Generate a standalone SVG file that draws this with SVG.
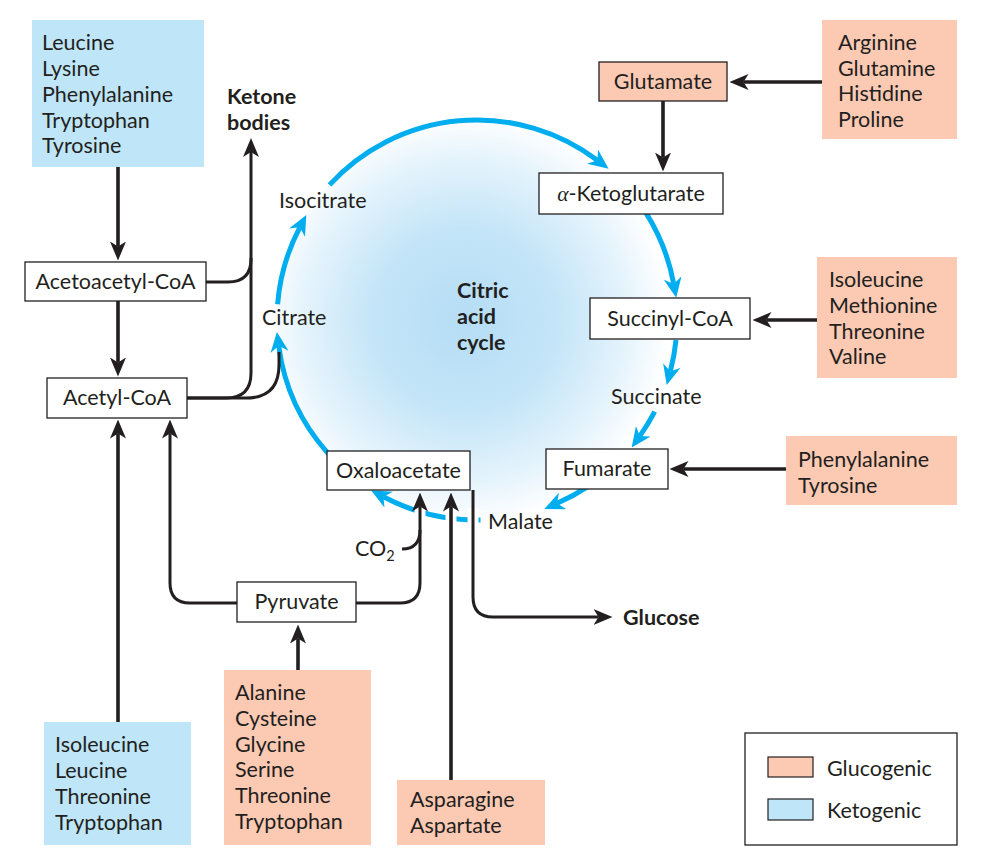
<svg xmlns="http://www.w3.org/2000/svg" width="985" height="859" viewBox="0 0 985 859">
<defs>
<radialGradient id="cyc" cx="465" cy="320" r="205" gradientUnits="userSpaceOnUse">
<stop offset="0" stop-color="#b5ddf5"/>
<stop offset="0.45" stop-color="#c4e5f8"/>
<stop offset="0.8" stop-color="#e6f4fc"/>
<stop offset="1" stop-color="#ffffff"/>
</radialGradient>
<marker id="ab" markerUnits="userSpaceOnUse" viewBox="0 0 20 18" markerWidth="20" markerHeight="18" refX="6" refY="9" orient="auto"><path d="M0,0 L20,9 L0,18 L6,9 z" fill="#00aeef"/></marker>
<marker id="ak" markerUnits="userSpaceOnUse" viewBox="0 0 19 16" markerWidth="19" markerHeight="16" refX="5" refY="8" orient="auto"><path d="M0,0 L19,8 L0,16 L5,8 z" fill="#231f20"/></marker>
</defs>
<style>
text{font-family:Lato,"Open Sans","Liberation Sans",sans-serif;font-size:21.5px;fill:#231f20}
.b{font-weight:bold}
.box{fill:#fff;stroke:#231f20;stroke-width:1.3}
.pe{fill:#fcc9b3}
.bl{fill:#bfe6f8}
.cy{fill:none;stroke:#00aeef;stroke-width:5;marker-end:url(#ab)}
.k{fill:none;stroke:#231f20;stroke-width:3}
.s{stroke-width:3.6}
.ka{marker-end:url(#ak)}
.gap{stroke:#fff;stroke-width:11}
</style>
<rect width="985" height="859" fill="#fff"/>
<circle cx="477" cy="320" r="200" fill="url(#cyc)"/>

<g id="cycle-arrows">
<path class="cy" d="M328.4,453.8 A200,200 0 0 1 278.7,345.8"/>
<path class="cy" d="M277.6,304.3 A200,200 0 0 1 299.8,227.3"/>
<path class="cy" d="M329.5,184.9 A200,200 0 0 1 597.4,160.3"/>
<path class="cy" d="M646.1,213.1 A200,200 0 0 1 673.7,283.9"/>
<path class="cy" d="M676.0,339.9 A200,200 0 0 1 670.3,371.4"/>
<path class="cy" d="M654.7,411.7 A200,200 0 0 1 639.8,436.1"/>
<path class="cy" d="M587.7,486.6 A200,200 0 0 1 557.1,503.3"/>
<path class="cy" d="M480.5,520.0 A200,200 0 0 1 383.4,496.8"/>
<line class="gap" x1="420" y1="503" x2="420" y2="522"/>
<line class="gap" x1="451" y1="508" x2="451" y2="530"/>
<line class="gap" x1="473" y1="508" x2="473" y2="530"/>
</g>

<g id="connectors">
<path class="k s ka" d="M118,167 V246.5"/>
<path class="k s ka" d="M118,301 V362.5"/>
<path class="k ka" d="M206,282 H228 Q251,282 251,259 V152"/>
<path class="k" d="M187,398 H226 Q251,398 251,373 V258"/>
<path class="k" d="M187,398 H246 Q279,398 279,365 V352"/>
<path class="k ka" d="M237,603 H190 Q170,603 170,583 V433.5"/>
<path class="k s ka" d="M118,722 V433.5"/>
<path class="k s ka" d="M298,670 V638.5"/>
<path class="k ka" d="M356,603 H400 Q420,603 420,583 V506.5"/>
<path class="k" d="M402,549 Q420,549 420,530"/>
<path class="k s ka" d="M451,780 V506.5"/>
<path class="k ka" d="M473,490 V597 Q473,617 493,617 H598.5"/>
<path class="k s ka" d="M822,82 H743.5"/>
<path class="k s ka" d="M663,101 V157.5"/>
<path class="k s ka" d="M817,320 H766.5"/>
<path class="k s ka" d="M786,469 H683.5"/>
</g>

<g id="ketogenic-top">
<rect class="bl" x="32" y="20" width="172" height="147"/>
<text x="42" y="50">Leucine</text>
<text x="42" y="76">Lysine</text>
<text x="42" y="102">Phenylalanine</text>
<text x="42" y="128">Tryptophan</text>
<text x="42" y="153">Tyrosine</text>
</g>
<g id="glucogenic-glutamate-sources">
<rect class="pe" x="822" y="20" width="135" height="119"/>
<text x="838" y="50">Arginine</text>
<text x="838" y="76">Glutamine</text>
<text x="838" y="101">Histidine</text>
<text x="838" y="127">Proline</text>
</g>
<g id="glucogenic-succinyl-sources">
<rect class="pe" x="817" y="257" width="140" height="121"/>
<text x="829" y="287">Isoleucine</text>
<text x="829" y="313">Methionine</text>
<text x="829" y="339">Threonine</text>
<text x="829" y="364">Valine</text>
</g>
<g id="glucogenic-fumarate-sources">
<rect class="pe" x="786" y="436" width="171" height="69"/>
<text x="798" y="467">Phenylalanine</text>
<text x="798" y="493">Tyrosine</text>
</g>
<g id="glucogenic-pyruvate-sources">
<rect class="pe" x="224" y="670" width="147" height="175"/>
<text x="235" y="700">Alanine</text>
<text x="235" y="726">Cysteine</text>
<text x="235" y="752">Glycine</text>
<text x="235" y="777">Serine</text>
<text x="235" y="803">Threonine</text>
<text x="235" y="829">Tryptophan</text>
</g>
<g id="glucogenic-oxaloacetate-sources">
<rect class="pe" x="397" y="780" width="148" height="65"/>
<text x="410" y="807">Asparagine</text>
<text x="410" y="833">Aspartate</text>
</g>
<g id="ketogenic-bottom">
<rect class="bl" x="44" y="722" width="147" height="123"/>
<text x="55" y="752">Isoleucine</text>
<text x="55" y="778">Leucine</text>
<text x="55" y="804">Threonine</text>
<text x="55" y="830">Tryptophan</text>
</g>

<g id="acetoacetyl-coa"><rect class="box" x="25" y="262" width="181" height="39"/><text x="115.5" y="289" text-anchor="middle">Acetoacetyl-CoA</text></g>
<g id="acetyl-coa"><rect class="box" x="47" y="378" width="140" height="40"/><text x="117" y="405" text-anchor="middle">Acetyl-CoA</text></g>
<g id="pyruvate"><rect class="box" x="237" y="582" width="119" height="40"/><text x="296.5" y="609" text-anchor="middle">Pyruvate</text></g>
<g id="oxaloacetate"><rect class="box" x="327" y="451" width="143" height="39"/><text x="398.5" y="477.5" text-anchor="middle">Oxaloacetate</text></g>
<g id="fumarate"><rect class="box" x="546" y="449" width="122" height="40"/><text x="607" y="476" text-anchor="middle">Fumarate</text></g>
<g id="succinyl-coa"><rect class="box" x="590" y="298" width="160" height="41"/><text x="670" y="326" text-anchor="middle">Succinyl-CoA</text></g>
<g id="alpha-ketoglutarate"><rect class="box" x="539" y="173" width="184" height="41"/><text x="631" y="201" text-anchor="middle"><tspan font-family="Liberation Serif,serif" font-style="italic">α</tspan>-Ketoglutarate</text></g>
<g id="glutamate"><rect class="box pe" x="599" y="62" width="128" height="39"/><text x="663" y="88.5" text-anchor="middle">Glutamate</text></g>

<g id="ketone-bodies"><text class="b" x="227" y="104">Ketone</text><text class="b" x="227" y="130">bodies</text></g>
<g id="citric-acid-cycle"><text class="b" x="457" y="298">Citric</text><text class="b" x="457" y="324">acid</text><text class="b" x="457" y="350">cycle</text></g>
<g id="isocitrate"><text x="279" y="208">Isocitrate</text></g>
<g id="citrate"><text x="262" y="325">Citrate</text></g>
<g id="succinate"><text x="611" y="404">Succinate</text></g>
<g id="malate"><text x="488" y="529">Malate</text></g>
<g id="glucose"><text class="b" x="623" y="625">Glucose</text></g>
<g id="co2"><text x="355" y="556">CO<tspan font-size="14.5" dy="5">2</tspan></text></g>

<g id="legend">
<rect x="745" y="733" width="212" height="112" fill="#fff" stroke="#231f20" stroke-width="1.3"/>
<rect class="pe" x="768" y="757" width="45" height="20" stroke="#231f20" stroke-width="1.2"/>
<rect class="bl" x="768" y="799" width="45" height="21" stroke="#231f20" stroke-width="1.2"/>
<text x="827" y="776">Glucogenic</text>
<text x="827" y="818">Ketogenic</text>
</g>
</svg>
